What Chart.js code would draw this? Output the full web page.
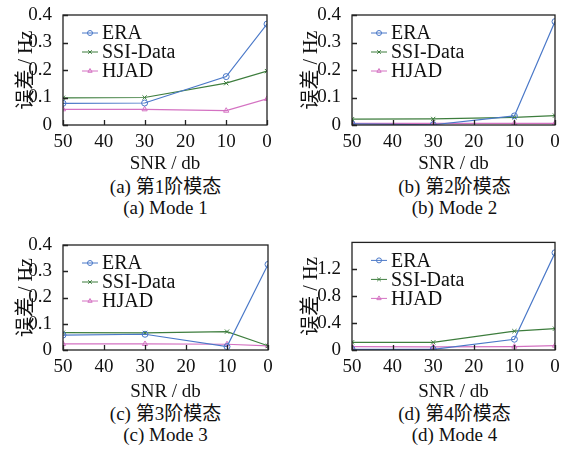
<!DOCTYPE html>
<html>
<head>
<meta charset="utf-8">
<script src="https://cdn.jsdelivr.net/npm/chart.js@4.4.0/dist/chart.umd.min.js"></script>
<style>
    body { margin: 0; background: #fff; width: 571px; height: 451px; position: relative; overflow: hidden;
           font-family: "Liberation Serif", "Noto Sans CJK SC", serif; color: #111; }
    canvas { position: absolute; }
    .cap { position: absolute; width: 285px; text-align: center; font-size: 19px; line-height: 22px; }
</style>
</head>
<body>
<canvas id="chartA" width="285" height="175" style="left:0;top:0"></canvas>
<canvas id="chartB" width="286" height="175" style="left:285px;top:0"></canvas>
<canvas id="chartC" width="285" height="175" style="left:0;top:228px"></canvas>
<canvas id="chartD" width="286" height="175" style="left:285px;top:228px"></canvas>

<div class="cap" style="left:23px;top:176px">(a) 第1阶模态</div>
<div class="cap" style="left:23px;top:197px">(a) Mode 1</div>
<div class="cap" style="left:312px;top:176px">(b) 第2阶模态</div>
<div class="cap" style="left:312px;top:197px">(b) Mode 2</div>
<div class="cap" style="left:23px;top:403px">(c) 第3阶模态</div>
<div class="cap" style="left:23px;top:424px">(c) Mode 3</div>
<div class="cap" style="left:312px;top:403px">(d) 第4阶模态</div>
<div class="cap" style="left:312px;top:424px">(d) Mode 4</div>

<script>
// data
var snr = [50, 30, 10, 0]
var xTicks = [50, 40, 30, 20, 10, 0]
var seriesNames = ['ERA', 'SSI-Data', 'HJAD']

var eraA = [0.079, 0.080, 0.176, 0.367]
var ssiA = [0.099, 0.100, 0.152, 0.196]
var hjadA = [0.057, 0.057, 0.052, 0.095]

var eraB = [0.004, 0.001, 0.033, 0.376]
var ssiB = [0.021, 0.022, 0.028, 0.034]
var hjadB = [0.006, 0.006, 0.006, 0.006]

var eraC = [0.057, 0.060, 0.013, 0.326]
var ssiC = [0.066, 0.065, 0.070, 0.016]
var hjadC = [0.023, 0.023, 0.022, 0.016]

var eraD = [0.010, 0.010, 0.160, 1.446]
var ssiD = [0.114, 0.114, 0.280, 0.317]
var hjadD = [0.050, 0.045, 0.050, 0.064]

var yTicksSmall = [0, 0.1, 0.2, 0.3, 0.4]
var yTicksBig = [0, 0.4, 0.8, 1.2]

var colors = ['#4a78c8', '#3d7d3d', '#d472c2']
var markers = ['circle', 'crossRot', 'triangle']
var serif = '"Liberation Serif", "Noto Sans CJK SC", serif'

function points(vals) {
    return snr.map(function (x, i) { return { x: x, y: vals[i] } })
}

// box, inward ticks and in-plot legend
var framePlugin = {
    id: 'frame',
    afterDraw: function (chart) {
        var ctx = chart.ctx
        var a = chart.chartArea
        var xs = chart.scales.x
        var ys = chart.scales.y
        ctx.save()
        ctx.strokeStyle = '#222'
        ctx.lineWidth = 1.3
        ctx.strokeRect(a.left, a.top, a.right - a.left, a.bottom - a.top)
        ctx.beginPath()
        xs.ticks.forEach(function (t) {
            var px = Math.round(xs.getPixelForValue(t.value)) + 0.5
            ctx.moveTo(px, a.bottom)
            ctx.lineTo(px, a.bottom - 5)
        })
        ys.ticks.forEach(function (t) {
            var py = Math.round(ys.getPixelForValue(t.value)) + 0.5
            ctx.moveTo(a.left, py)
            ctx.lineTo(a.left + 5, py)
        })
        ctx.stroke()

        // legend
        var lx = a.left + 19
        var ly = a.top + 18
        ctx.font = '20px ' + serif
        ctx.textBaseline = 'middle'
        chart.data.datasets.forEach(function (ds, i) {
            var y = ly + i * 19
            ctx.strokeStyle = ds.borderColor
            ctx.fillStyle = 'rgba(0,0,0,0)'
            ctx.lineWidth = 1
            ctx.beginPath()
            ctx.moveTo(lx, y)
            ctx.lineTo(lx + 16, y)
            ctx.stroke()
            Chart.helpers.drawPoint(ctx, { pointStyle: ds.pointStyle, radius: 2.5, borderWidth: 1 }, lx + 8, y)
            ctx.fillStyle = '#111'
            ctx.fillText(ds.label, lx + 20, y + 1)
        })
        ctx.restore()
    }
}

function makeChart(id, era, ssi, hjad, yTicks, yMax, yWidth, xHeight, padTop, padRight) {
    var sets = [era, ssi, hjad].map(function (vals, i) {
        return {
            label: seriesNames[i],
            data: points(vals),
            borderColor: colors[i],
            backgroundColor: 'rgba(0,0,0,0)',
            borderWidth: 1.2,
            pointStyle: markers[i],
            pointRadius: 3,
            pointBorderColor: colors[i],
            pointBackgroundColor: 'rgba(0,0,0,0)',
            pointBorderWidth: 1,
            tension: 0
        }
    })
    return new Chart(document.getElementById(id), {
        type: 'line',
        data: { datasets: sets },
        options: {
            responsive: false,
            animation: false,
            layout: { padding: { top: padTop, right: padRight, left: 0, bottom: 0 } },
            plugins: { legend: { display: false }, tooltip: { enabled: false } },
            scales: {
                x: {
                    type: 'linear',
                    reverse: true,
                    min: 0,
                    max: 50,
                    grid: { display: false },
                    border: { display: false },
                    afterBuildTicks: function (s) { s.ticks = xTicks.map(function (v) { return { value: v } }) },
                    afterFit: function (s) { s.height = xHeight },
                    ticks: { color: '#111', padding: -2, maxRotation: 0, font: { family: serif, size: 19 } },
                    title: { display: true, text: 'SNR / db', color: '#111', padding: { top: 0, bottom: 0 },
                             font: { family: serif, size: 19 } }
                },
                y: {
                    min: 0,
                    max: yMax,
                    grid: { display: false },
                    border: { display: false },
                    afterBuildTicks: function (s) { s.ticks = yTicks.map(function (v) { return { value: v } }) },
                    afterFit: function (s) { s.width = yWidth },
                    ticks: {
                        color: '#111', padding: 3, font: { family: serif, size: 19 },
                        callback: function (v) { return String(v) }
                    },
                    title: { display: true, text: '误差 / Hz', color: '#111', padding: { top: 15, bottom: 0 },
                             font: { family: serif, size: 20 } }
                }
            }
        },
        plugins: [framePlugin]
    })
}

makeChart('chartA', eraA, ssiA, hjadA, yTicksSmall, 0.4, 63, 50, 15, 18)
makeChart('chartB', eraB, ssiB, hjadB, yTicksSmall, 0.4, 67, 50, 15, 16)
makeChart('chartC', eraC, ssiC, hjadC, yTicksSmall, 0.4, 63, 53, 17, 17)
makeChart('chartD', eraD, ssiD, hjadD, yTicksBig, 1.6, 67, 53, 14, 16)
</script>
</body>
</html>
